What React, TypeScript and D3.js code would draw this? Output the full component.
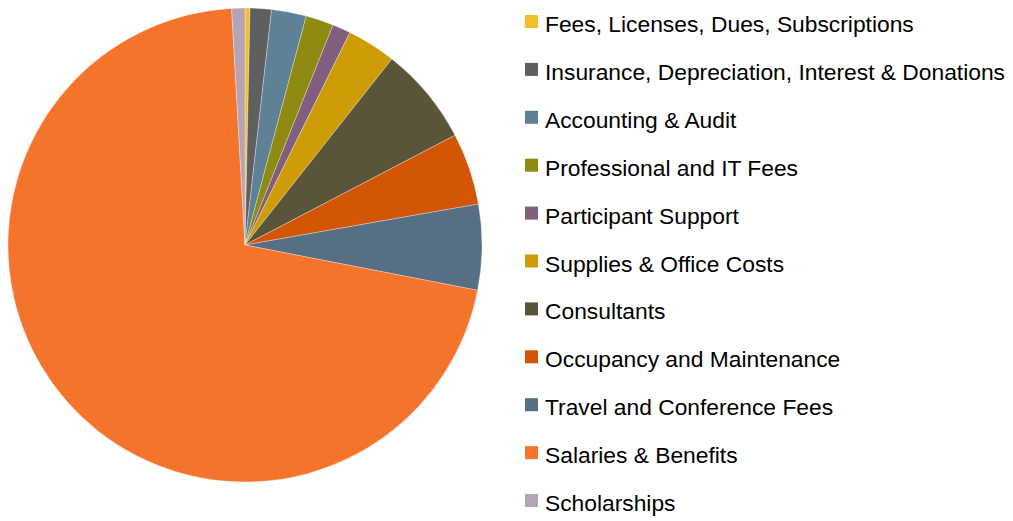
import React, { useEffect, useRef } from 'react';
import * as d3 from 'd3';

const categories = [
  'Fees, Licenses, Dues, Subscriptions',
  'Insurance, Depreciation, Interest & Donations',
  'Accounting & Audit',
  'Professional and IT Fees',
  'Participant Support',
  'Supplies & Office Costs',
  'Consultants',
  'Occupancy and Maintenance',
  'Travel and Conference Fees',
  'Salaries & Benefits',
  'Scholarships',
];
const shares = [0.34, 1.45, 2.37, 1.9, 1.24, 3.34, 6.7, 4.9, 5.83, 71.05, 0.9];
const colors = [
  '#f5be2a', '#5f5f5f', '#5f8196', '#8e8a12', '#825e7e', '#ce9c07',
  '#5a5538', '#d35506', '#566f84', '#f5742b', '#b4a4b5',
];

const App = () => {
  const svgRef = useRef<SVGSVGElement>(null);

  useEffect(() => {
    const width = 1013;
    const height = 521;
    const cx = 245;
    const cy = 245;
    const radius = 237;

    const svg = d3.select(svgRef.current);
    svg.selectAll('*').remove();
    svg.attr('width', width).attr('height', height);

    const data = categories.map((name, i) => ({ name, value: shares[i], color: colors[i] }));

    const pie = d3.pie<any>().sort(null).value((d) => d.value);
    const arc = d3.arc<any>().innerRadius(0).outerRadius(radius);

    svg.append('g')
      .attr('transform', `translate(${cx},${cy})`)
      .selectAll('path')
      .data(pie(data))
      .enter()
      .append('path')
      .attr('d', arc)
      .attr('fill', (d) => d.data.color)
      .attr('stroke', '#ffffff')
      .attr('stroke-opacity', 0.5)
      .attr('stroke-width', 0.6);

    // legend
    const rowY = d3.scaleLinear().domain([0, 1]).range([15, 62.9]);
    const legend = svg.append('g');
    const rows = legend.selectAll('g')
      .data(data)
      .enter()
      .append('g')
      .attr('transform', (_d, i) => `translate(525,${rowY(i)})`);

    rows.append('rect')
      .attr('width', 13)
      .attr('height', 13)
      .attr('fill', (d) => d.color);

    rows.append('text')
      .attr('x', 20)
      .attr('y', 17)
      .attr('font-family', '"Liberation Sans Narrow", "Arial Narrow", "Liberation Sans", sans-serif')
      .attr('font-size', 22.8)
      .attr('fill', '#000')
      .text((d) => d.name);
  }, []);

  return (
    <div style={{ position: 'absolute', left: 0, top: 0 }}>
      <svg ref={svgRef}></svg>
    </div>
  );
};

export default App;
